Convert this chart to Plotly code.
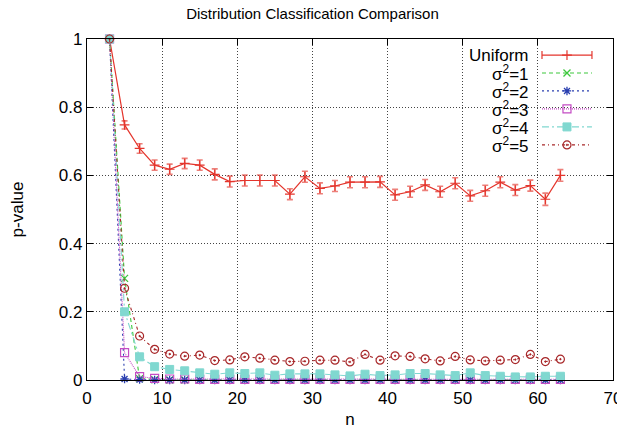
import plotly.graph_objects as go

n = [3, 5, 7, 9, 11, 13, 15, 17, 19, 21, 23, 25, 27, 29, 31, 33,
     35, 37, 39, 41, 43, 45, 47, 49, 51, 53, 55, 57, 59, 61, 63]

uniform = [1.0, 0.748, 0.679, 0.630, 0.618, 0.635, 0.630, 0.603, 0.582, 0.585,
           0.585, 0.585, 0.545, 0.596, 0.562, 0.569, 0.580, 0.580, 0.581, 0.543,
           0.552, 0.572, 0.552, 0.577, 0.540, 0.555, 0.580, 0.557, 0.570, 0.530, 0.600]
uniform_err = [0.0, 0.012, 0.014, 0.015, 0.015, 0.015, 0.015, 0.016, 0.016, 0.016,
               0.016, 0.016, 0.016, 0.016, 0.016, 0.016, 0.016, 0.016, 0.016, 0.016,
               0.016, 0.016, 0.016, 0.016, 0.016, 0.016, 0.016, 0.016, 0.016, 0.018, 0.017]

s1 = [1.0, 0.298, 0.004, 0.001] + [0.0] * 27
s2 = [1.0, 0.003, 0.001] + [0.0] * 28
s3 = [1.0, 0.080, 0.010, 0.005, 0.003, 0.003] + [0.002] * 25
s4 = [1.0, 0.200, 0.068, 0.039, 0.031, 0.027, 0.021, 0.017, 0.021, 0.019, 0.021,
      0.014, 0.018, 0.018, 0.018, 0.015, 0.012, 0.017, 0.013, 0.015, 0.019, 0.019,
      0.015, 0.013, 0.021, 0.013, 0.011, 0.009, 0.009, 0.011, 0.011]
s5 = [1.0, 0.269, 0.129, 0.090, 0.076, 0.070, 0.073, 0.057, 0.059, 0.068, 0.064,
      0.058, 0.054, 0.055, 0.058, 0.058, 0.053, 0.075, 0.058, 0.071, 0.069, 0.062,
      0.056, 0.069, 0.059, 0.056, 0.058, 0.060, 0.075, 0.054, 0.061]

names = ["Uniform", "σ<sup>2</sup>=1", "σ<sup>2</sup>=2", "σ<sup>2</sup>=3",
         "σ<sup>2</sup>=4", "σ<sup>2</sup>=5"]

FONT = "Liberation Sans, Arial, Helvetica, sans-serif"
RED = "#e4352c"

# series styles: (values, colour, dash, symbol, size, marker line width)
styles = [
    (s1, "#3cc83c", "4px,3px", "x-thin", 7, 1.3),
    (s2, "#2a3fb0", "2px,3px", "asterisk", 7, 1.3),
    (s3, "#c44cc4", "1px,1px", "square-open", 8, 1.2),
    (s4, "#80d8d0", "7px,3px,2px,3px", "square", 8, 1.0),
    (s5, "#a8282a", "3px,3px,1px,3px", "circle-open-dot", 8, 1.2),
]

fig = go.Figure()

fig.add_trace(go.Scatter(
    x=n, y=uniform, name=names[0], mode="lines+markers", showlegend=False,
    line=dict(color=RED, width=1.2),
    marker=dict(symbol="cross-thin", size=7, line=dict(color=RED, width=1.2)),
    error_y=dict(type="data", array=uniform_err, color="rgba(228,60,50,0.65)",
                 thickness=1.6, width=3),
    cliponaxis=False))

for (vals, col, dash, sym, sz, lw), nm in zip(styles, names[1:]):
    fig.add_trace(go.Scatter(
        x=n, y=vals, name=nm, mode="lines+markers", showlegend=False,
        line=dict(color=col, width=1.1, dash=dash),
        marker=dict(symbol=sym, size=sz, color=col, line=dict(color=col, width=lw)),
        cliponaxis=False))

# ---- gnuplot-style key (text on the left, sample on the right) ----
KEY_BOX = (0.7015, 0.977, 0.669, 1.0)     # paper coords of the opaque key box
KEY_TEXT_X = 0.844
KEY_LINE_X = (0.865, 0.960)
KEY_Y0, KEY_DY = 0.953, 0.0527

shapes = [dict(type="rect", xref="paper", yref="paper",
               x0=KEY_BOX[0], x1=KEY_BOX[1], y0=KEY_BOX[2], y1=KEY_BOX[3],
               fillcolor="white", line=dict(width=0), layer="between")]
annotations = []
key_colors = [RED] + [s[1] for s in styles]
key_dashes = ["solid"] + [s[2] for s in styles]
key_syms = ["cross-thin"] + [s[3] for s in styles]
key_sizes = [7] + [s[4] for s in styles]
key_lw = [1.2] + [s[5] for s in styles]
mid_x = (KEY_LINE_X[0] + KEY_LINE_X[1]) / 2
for i, nm in enumerate(names):
    yk = KEY_Y0 - i * KEY_DY
    annotations.append(dict(text=nm, xref="paper", yref="paper", x=KEY_TEXT_X, y=yk,
                            xanchor="right", yanchor="middle", showarrow=False,
                            font=dict(family=FONT, size=17, color="black")))
    shapes.append(dict(type="line", xref="paper", yref="paper",
                       x0=KEY_LINE_X[0], x1=KEY_LINE_X[1], y0=yk, y1=yk,
                       line=dict(color=key_colors[i], width=1.2, dash=key_dashes[i]),
                       layer="above"))
    if i == 0:
        for xe in KEY_LINE_X:
            shapes.append(dict(type="line", xref="paper", yref="paper",
                               x0=xe, x1=xe, y0=yk - 0.012, y1=yk + 0.012,
                               line=dict(color=RED, width=1.2), layer="above"))
    fig.add_trace(go.Scatter(
        x=[mid_x], y=[yk], xaxis="x2", yaxis="y2", mode="markers", showlegend=False,
        hoverinfo="skip",
        marker=dict(symbol=key_syms[i], size=key_sizes[i], color=key_colors[i],
                    line=dict(color=key_colors[i], width=key_lw[i])),
        cliponaxis=False))

axis_common = dict(
    showline=True, linecolor="black", linewidth=1.2, mirror="ticks",
    ticks="inside", ticklen=6, tickcolor="black", tickwidth=1,
    showgrid=True, gridcolor="#444444", gridwidth=1, griddash="1px,2px",
    zeroline=False, tickfont=dict(family=FONT, size=17, color="black"),
    automargin=False, layer="above traces",
)

fig.update_xaxes(range=[0, 70], dtick=10, tick0=0,
                 title=dict(text="n", font=dict(family=FONT, size=17, color="black"), standoff=6),
                 ticklabelstandoff=2, **axis_common)
fig.update_yaxes(range=[0, 1], dtick=0.2, tick0=0,
                 title=dict(text="p-value", font=dict(family=FONT, size=17, color="black"), standoff=33),
                 ticklabelstandoff=0, **axis_common)

# the page places the figure 8px in from the top-left corner; size compensates
fig.update_layout(
    width=617, height=426,
    margin=dict(l=79, r=12, t=31, b=54),
    paper_bgcolor="white", plot_bgcolor="white",
    title=dict(text="Distribution Classification Comparison", x=0.5 - 4 / 617, xanchor="center",
               y=1.0, yanchor="top", pad=dict(t=0, b=0),
               font=dict(family=FONT, size=15, color="black")),
    font=dict(family=FONT, color="black"),
    showlegend=False,
    xaxis2=dict(overlaying="x", range=[0, 1], visible=False, fixedrange=True),
    yaxis2=dict(overlaying="y", range=[0, 1], visible=False, fixedrange=True),
    shapes=shapes, annotations=annotations,
)

fig.write_html("out.html")
